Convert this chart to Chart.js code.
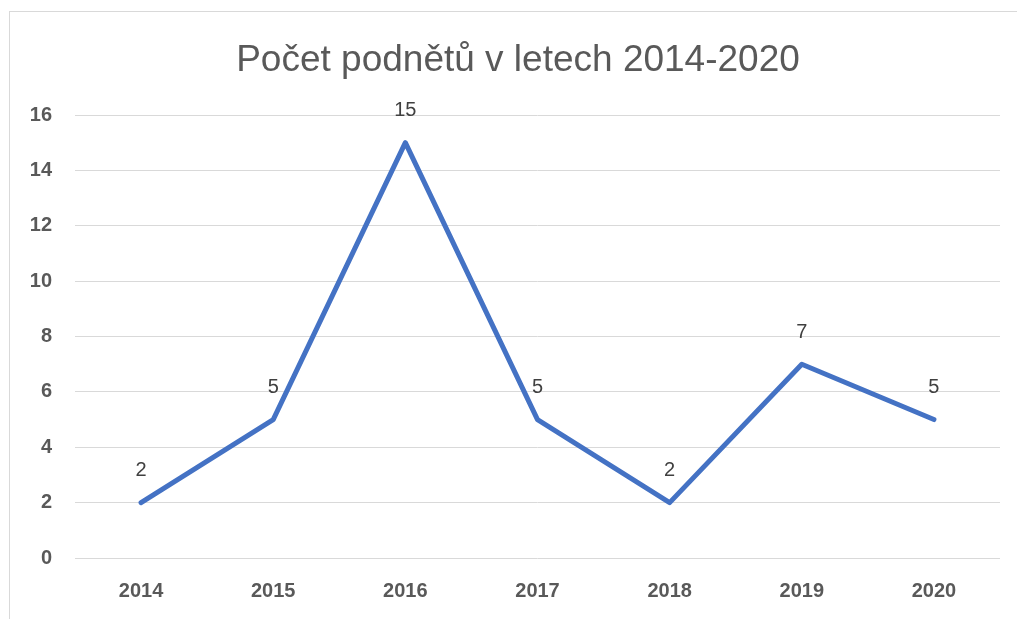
<!DOCTYPE html>
<html>
<head>
<meta charset="utf-8">
<script src="https://cdn.jsdelivr.net/npm/chart.js@4"></script>
<style>
 html,body{margin:0;padding:0;background:#fff;overflow:hidden}
 #wrap{position:relative;width:1017px;height:619px}
 #frame{position:absolute;left:9px;top:11px;width:1100px;height:700px;border:1px solid #d9d9d9}
 canvas{position:absolute;left:0;top:0}
</style>
</head>
<body>
<div id="wrap">
 <div id="frame"></div>
 <canvas id="chart" width="1017" height="619"></canvas>
</div>
<script>
// data
const title="Počet podnětů v letech 2014-2020";
const years=["2014","2015","2016","2017","2018","2019","2020"];
const podnety=[2,5,15,5,2,7,5];

const font="'Liberation Sans', Arial, sans-serif";

// value labels above the points + title, centred like in the original
const labelsPlugin={
 id:"hodnoty",
 afterDatasetsDraw(c){
  const ctx=c.ctx,meta=c.getDatasetMeta(0);
  ctx.save();
  ctx.font="20px "+font;
  ctx.fillStyle="#404040";
  ctx.textAlign="center";
  ctx.textBaseline="middle";
  meta.data.forEach((pt,i)=>ctx.fillText(podnety[i],pt.x,pt.y-32));
  ctx.font="37px "+font;
  ctx.fillStyle="#595959";
  ctx.fillText(title,518,61);
  ctx.restore();
 }
};

Chart.defaults.animation=false;

new Chart(document.getElementById("chart"),{
 type:"line",
 data:{labels:years,datasets:[{
  data:podnety,
  borderColor:"#4472c4",
  borderWidth:5,
  pointRadius:0,
  tension:0,
  borderCapStyle:"round",
  borderJoinStyle:"round"
 }]},
 options:{
  responsive:false,
  layout:{padding:{left:0,right:17,top:115,bottom:0}},
  plugins:{
   legend:{display:false},
   tooltip:{enabled:false},
   title:{display:false}
  },
  scales:{
   x:{
    offset:true,
    grid:{display:false,drawTicks:false},
    border:{display:false},
    ticks:{color:"#595959",font:{family:font,size:20,weight:"bold"},padding:21},
    afterFit(s){s.height=61}
   },
   y:{
    min:0,max:16,
    grid:{color:"#d9d9d9",lineWidth:1,drawTicks:false},
    border:{display:false},
    ticks:{stepSize:2,color:"#595959",font:{family:font,size:20,weight:"bold"},padding:23},
    afterFit(s){s.width=75}
   }
  }
 },
 plugins:[labelsPlugin]
});
</script>
</body>
</html>
